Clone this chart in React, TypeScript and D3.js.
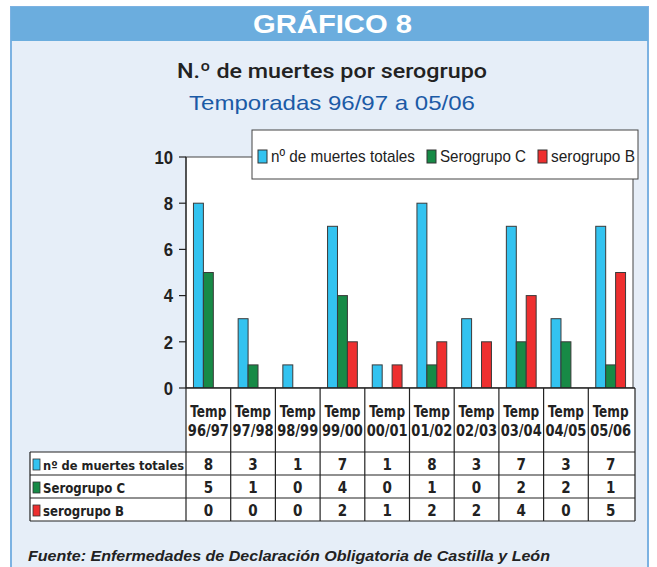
import React from "react";
import * as d3 from "d3";

const categories = ["96/97", "97/98", "98/99", "99/00", "00/01", "01/02", "02/03", "03/04", "04/05", "05/06"];
const seriesNames = ["nº de muertes totales", "Serogrupo C", "serogrupo B"];
const totales = [8, 3, 1, 7, 1, 8, 3, 7, 3, 7];
const serogrupoC = [5, 1, 0, 4, 0, 1, 0, 2, 2, 1];
const serogrupoB = [0, 0, 0, 2, 1, 2, 2, 4, 0, 5];
const seriesColors = ["#33c3f0", "#178a46", "#ee2f2f"];
const yTicks = [0, 2, 4, 6, 8, 10];

const seriesValues = [totales, serogrupoC, serogrupoB];

const W = 657;
const H = 567;
const plotL = 186;
const plotR = 633;
const plotT = 157;
const plotB = 388;
const rowH = 23;
const tableTop = 452;
const tableLeft = 30;

const narrow = "'DejaVu Sans Condensed', 'DejaVu Sans', sans-serif";
const sans = "'Liberation Sans', Arial, sans-serif";
const med = "Roboto, 'Liberation Sans', Arial, sans-serif";

const legendPos = [258, 427, 538];
const legendLen = [144, 86, 84];
const rowLabelLen = [141, 82, 81];
const rowLabelSize = [13, 14.5, 14.5];

export default function App() {
  const y = d3.scaleLinear().domain([0, 10]).range([plotB, plotT]);
  const x = d3.scaleBand<string>().domain(categories).range([plotL, plotR]).padding(0);
  const xs = d3
    .scaleBand<string>()
    .domain(seriesNames)
    .range([0, x.bandwidth()])
    .paddingInner(0)
    .paddingOuter(0.75);

  const tableBottom = tableTop + rowH * 3;

  return (
    <svg
      width={W}
      height={H}
      style={{ position: "absolute", left: 0, top: 0, background: "#ffffff" }}
    >
      {/* frame */}
      <rect x={11} y={7} width={637} height={H} fill="#e6eef8" stroke="#7cb2e2" strokeWidth={2} />
      <rect x={11} y={7} width={637} height={34} fill="#6badde" />
      <text
        x={253}
        y={33}
        fill="#ffffff"
        fontFamily={sans}
        fontWeight="bold"
        fontSize={26}
        textLength={159}
        lengthAdjust="spacingAndGlyphs"
      >
        GRÁFICO 8
      </text>
      <text
        x={177}
        y={78}
        fill="#222222"
        fontFamily={med}
        fontWeight={500}
        fontSize={21}
        textLength={310}
        lengthAdjust="spacingAndGlyphs"
      >
        N.º de muertes por serogrupo
      </text>
      <text
        x={189}
        y={110}
        fill="#1b5aa6"
        fontFamily={sans}
        fontSize={21}
        textLength={286}
        lengthAdjust="spacingAndGlyphs"
      >
        Temporadas 96/97 a 05/06
      </text>

      {/* plot area */}
      <rect x={plotL} y={plotT} width={plotR - plotL} height={plotB - plotT} fill="#ffffff" stroke="#444" strokeWidth={1} />

      {/* y axis ticks */}
      {yTicks.map((t) => (
        <g key={t}>
          <line x1={179} x2={plotL} y1={y(t)} y2={y(t)} stroke="#222" strokeWidth={1.2} />
          <text
            x={173}
            y={y(t)}
            dy="0.36em"
            textAnchor="end"
            fontFamily={sans}
            fontWeight="bold"
            fontSize={19}
            fill="#222"
            transform={`translate(173,0) scale(0.88,1) translate(-173,0)`}
          >
            {t}
          </text>
        </g>
      ))}
      <line x1={plotL} x2={plotL} y1={plotT} y2={plotB} stroke="#222" strokeWidth={1.2} />

      {/* bars */}
      {categories.map((c, i) => (
        <g key={c}>
          {seriesNames.map((s, k) => {
            const v = seriesValues[k][i];
            if (v === 0) return null;
            return (
              <rect
                key={s}
                x={(x(c) as number) + (xs(s) as number)}
                y={y(v)}
                width={xs.bandwidth()}
                height={y(0) - y(v)}
                fill={seriesColors[k]}
                stroke="#3a3a3a"
                strokeWidth={1}
              />
            );
          })}
        </g>
      ))}

      {/* legend */}
      <rect x={252} y={130} width={386} height={49} fill="#ffffff" stroke="#444" strokeWidth={1} />
      {seriesNames.map((s, k) => (
        <g key={s}>
          <rect x={legendPos[k]} y={150} width={9} height={13} fill={seriesColors[k]} stroke="#333" strokeWidth={1} />
          <text
            x={legendPos[k] + 13}
            y={162}
            fontFamily={sans}
            fontSize={17}
            fill="#222"
            textLength={legendLen[k]}
            lengthAdjust="spacingAndGlyphs"
          >
            {s}
          </text>
        </g>
      ))}

      {/* table: header with category labels */}
      <rect x={plotL} y={plotB} width={plotR + 2 - plotL} height={tableTop - plotB} fill="#ffffff" />
      <rect x={tableLeft} y={tableTop} width={plotR + 2 - tableLeft} height={rowH * 3} fill="#ffffff" />
      <line x1={plotL} x2={plotR + 2} y1={plotB} y2={plotB} stroke="#222" strokeWidth={1.3} />
      {categories.map((c) => {
        const cx = (x(c) as number) + x.bandwidth() / 2;
        return (
          <g key={c}>
            <text
              x={cx - 18}
              y={417}
              fontFamily={narrow}
              fontWeight="bold"
              fontSize={15}
              fill="#222"
              textLength={36}
              lengthAdjust="spacingAndGlyphs"
            >
              Temp
            </text>
            <text
              x={cx - 20.5}
              y={436}
              fontFamily={narrow}
              fontWeight="bold"
              fontSize={15}
              fill="#222"
              textLength={41}
              lengthAdjust="spacingAndGlyphs"
            >
              {c}
            </text>
          </g>
        );
      })}
      {[...categories.map((c) => x(c) as number), plotR + 2].map((xx, i) => (
        <line key={i} x1={xx} x2={xx} y1={plotB} y2={tableBottom} stroke="#222" strokeWidth={1.2} />
      ))}
      {[0, 1, 2, 3].map((r) => (
        <line
          key={r}
          x1={tableLeft}
          x2={plotR + 2}
          y1={tableTop + r * rowH}
          y2={tableTop + r * rowH}
          stroke="#222"
          strokeWidth={1.2}
        />
      ))}
      <line x1={tableLeft} x2={tableLeft} y1={tableTop} y2={tableBottom} stroke="#222" strokeWidth={1.2} />
      {seriesNames.map((s, k) => (
        <g key={s}>
          <rect
            x={33}
            y={tableTop + k * rowH + 7}
            width={7}
            height={11}
            fill={seriesColors[k]}
            stroke="#333"
            strokeWidth={0.8}
          />
          <text
            x={43}
            y={tableTop + k * rowH + 18}
            fontFamily={narrow}
            fontWeight="bold"
            fontSize={rowLabelSize[k]}
            fill="#222"
            textLength={rowLabelLen[k]}
            lengthAdjust="spacingAndGlyphs"
          >
            {s}
          </text>
          {categories.map((c, i) => (
            <text
              key={c}
              x={(x(c) as number) + x.bandwidth() / 2}
              y={tableTop + k * rowH + 18}
              textAnchor="middle"
              fontFamily={narrow}
              fontWeight="bold"
              fontSize={15}
              fill="#222"
            >
              {seriesValues[k][i]}
            </text>
          ))}
        </g>
      ))}

      <text
        x={28}
        y={561}
        fontFamily={sans}
        fontWeight="bold"
        fontStyle="italic"
        fontSize={15}
        fill="#222"
        textLength={522}
        lengthAdjust="spacingAndGlyphs"
      >
        Fuente: Enfermedades de Declaración Obligatoria de Castilla y León
      </text>
    </svg>
  );
}
